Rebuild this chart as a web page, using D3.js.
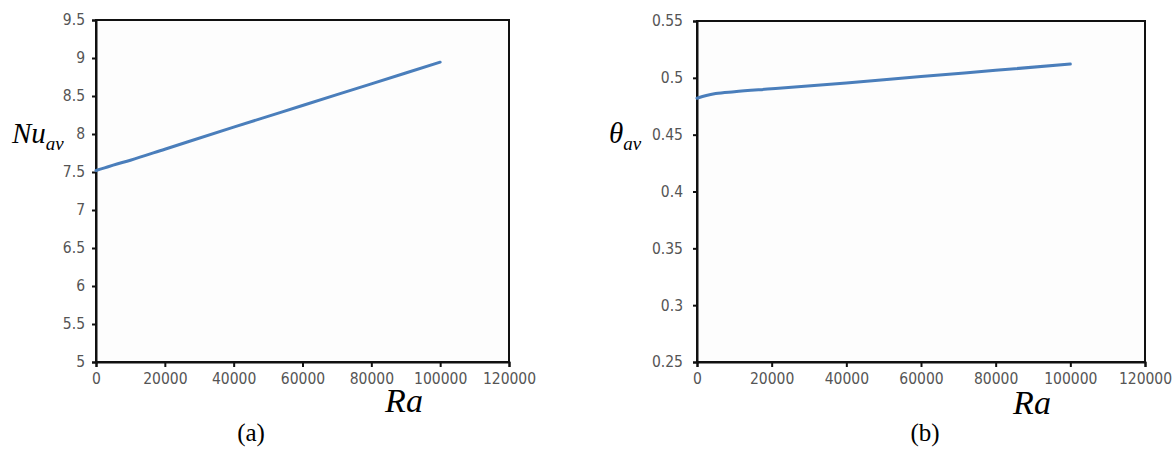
<!DOCTYPE html>
<html><head><meta charset="utf-8">
<script src="https://cdn.jsdelivr.net/npm/d3@7"></script>
<style>
body{margin:0;background:#fff;}
.tick text{font-family:"Liberation Sans Narrow","DejaVu Sans Condensed",sans-serif;font-size:15.5px;fill:#555;}
.serif{font-family:"Liberation Serif","DejaVu Serif","Times New Roman",serif;}
</style></head>
<body><svg id="c" width="1174" height="450"></svg>
<script>
const raValues = [0, 2500, 5000, 10000, 20000, 40000, 60000, 80000, 100000];
const nuValues = [7.52, 7.555, 7.59, 7.655, 7.80, 8.09, 8.375, 8.66, 8.945];
const thetaValues = [0.482, 0.4845, 0.4862, 0.4878, 0.4903, 0.4955, 0.5012, 0.5066, 0.5121];
const xTicks = [0, 20000, 40000, 60000, 80000, 100000, 120000];
const nuTicks = [5, 5.5, 6, 6.5, 7, 7.5, 8, 8.5, 9, 9.5];
const thetaTicks = [0.25, 0.3, 0.35, 0.4, 0.45, 0.5, 0.55];

const svg = d3.select("#c");

function panel(o){
  const x = d3.scaleLinear().domain([0,120000]).range([o.l,o.r]);
  const y = d3.scaleLinear().domain(o.yDomain).range([o.b,o.t]);
  const g = svg.append("g");
  g.append("rect").attr("x",o.l).attr("y",o.t).attr("width",o.r-o.l).attr("height",o.b-o.t)
    .attr("fill","#fdfdfd").attr("stroke","#111").attr("stroke-width",2);
  const xa = g.append("g").attr("transform",`translate(0,${o.b})`)
    .call(d3.axisBottom(x).tickValues(xTicks).tickFormat(d3.format("d")).tickSize(5).tickPadding(6));
  const ya = g.append("g").attr("transform",`translate(${o.l},0)`)
    .call(d3.axisLeft(y).tickValues(o.yTicks).tickFormat(o.fmt).tickSize(4).tickPadding(o.pad));
  [xa,ya].forEach(a=>{a.select(".domain").attr("stroke","#111").attr("stroke-width",2);
    a.selectAll(".tick line").attr("stroke","#111").attr("stroke-width",2);});
  const line = d3.line().x((d,i)=>x(raValues[i])).y(d=>y(d)).curve(d3.curveMonotoneX);
  g.append("path").datum(o.vals).attr("d",line).attr("fill","none")
    .attr("stroke","#4a7ebb").attr("stroke-width",3).attr("stroke-linecap","round");
  g.append("text").attr("class","serif").attr("x",o.raX).attr("y",o.raY).attr("text-anchor","middle")
    .attr("font-style","italic").attr("font-size",34).text("Ra");
  const yl = g.append("text").attr("class","serif").attr("x",o.ylX).attr("y",o.ylY)
    .attr("font-style","italic").attr("font-size",29);
  yl.append("tspan").text(o.ylMain);
  yl.append("tspan").attr("font-size",19).attr("dy",7).text("av");
  g.append("text").attr("class","serif").attr("x",o.capX).attr("y",441).attr("text-anchor","middle")
    .attr("font-size",25).text(o.cap);
}

panel({l:96,r:509,t:20,b:362,yDomain:[5,9.5],yTicks:nuTicks,fmt:d3.format("~g"),pad:7,
  vals:nuValues,raX:404,raY:412,ylX:12,ylY:143,ylMain:"Nu",capX:251,cap:"(a)"});
panel({l:697,r:1145,t:21,b:362,yDomain:[0.25,0.55],yTicks:thetaTicks,fmt:d3.format("~g"),pad:10,
  vals:thetaValues,raX:1032,raY:414,ylX:609,ylY:143,ylMain:"θ",capX:925,cap:"(b)"});
</script></body></html>
